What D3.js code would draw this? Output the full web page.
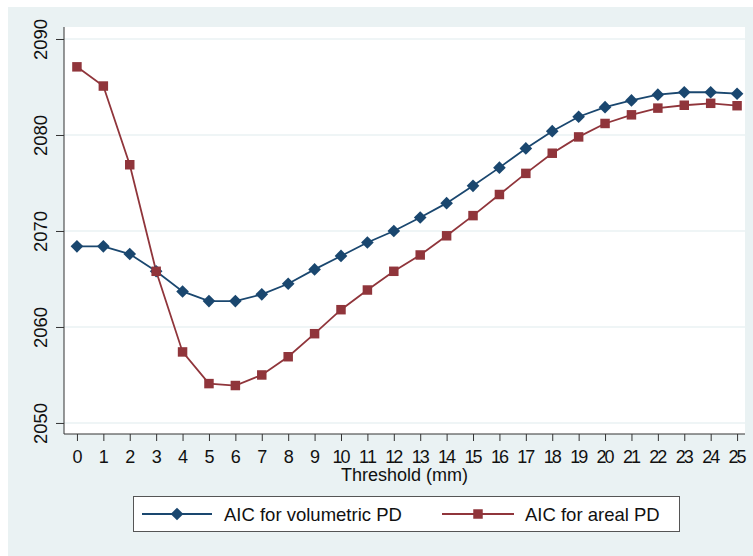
<!DOCTYPE html>
<html>
<head>
<meta charset="utf-8">
<script src="https://cdn.jsdelivr.net/npm/d3@7"></script>
<style>
  body { margin: 0; background: #fff; }
  text { font-family: Arial, "Liberation Sans", sans-serif; fill: #111; }
</style>
</head>
<body>
<div id="chart"></div>
<script>
// data
const thresholds = d3.range(0, 26);
const aicVolumetric = [2068.4, 2068.4, 2067.6, 2065.8, 2063.7, 2062.7, 2062.7, 2063.4, 2064.5, 2066.0,
  2067.4, 2068.8, 2070.0, 2071.4, 2072.9, 2074.7, 2076.6, 2078.6, 2080.4, 2081.9,
  2082.9, 2083.6, 2084.2, 2084.45, 2084.45, 2084.3];
const aicAreal = [2087.1, 2085.1, 2076.9, 2065.8, 2057.4, 2054.1, 2053.9, 2055.0, 2056.9, 2059.3,
  2061.8, 2063.85, 2065.8, 2067.5, 2069.5, 2071.6, 2073.8, 2076.0, 2078.1, 2079.8,
  2081.2, 2082.1, 2082.8, 2083.1, 2083.3, 2083.05];
const yTicks = [2050, 2060, 2070, 2080, 2090];
const seriesNames = ["AIC for volumetric PD", "AIC for areal PD"];

const width = 753;
const height = 556;
const plot = { left: 64, right: 745, top: 27, bottom: 434 };
const navy = "#1a476f";
const maroon = "#90353b";
const bg = "#eaf2f3";

const svg = d3.select("#chart")
  .append("svg")
  .attr("width", width)
  .attr("height", height);

// outer background
svg.append("rect")
  .attr("x", 8).attr("y", 7)
  .attr("width", width - 8).attr("height", height - 7)
  .attr("fill", bg);

svg.append("rect")
  .attr("x", plot.left).attr("y", plot.top)
  .attr("width", plot.right - plot.left).attr("height", plot.bottom - plot.top)
  .attr("fill", "#fff");

const xScale = d3.scaleLinear()
  .domain([-0.49, 25.3])
  .range([plot.left, plot.right]);

const yScale = d3.scaleLinear()
  .domain([2048.85, 2091.25])
  .range([plot.bottom, plot.top]);

// grid lines
svg.append("g")
  .selectAll("line")
  .data(yTicks)
  .enter()
  .append("line")
  .attr("x1", plot.left).attr("x2", plot.right)
  .attr("y1", d => yScale(d)).attr("y2", d => yScale(d))
  .attr("stroke", bg)
  .attr("stroke-width", 1.5);

// axes
const yAxis = d3.axisLeft(yScale).tickValues(yTicks).tickSize(8).tickSizeOuter(0).tickFormat(d3.format("d"));
const gy = svg.append("g")
  .attr("transform", "translate(" + plot.left + ",0)")
  .call(yAxis);
gy.select(".domain").attr("stroke", "#333").attr("d", "M0," + plot.top + "V" + plot.bottom);
gy.selectAll(".tick line").attr("stroke", "#333");
gy.selectAll(".tick text")
  .attr("transform", "rotate(-90)")
  .attr("x", 0)
  .attr("y", -17)
  .attr("dy", 0)
  .attr("text-anchor", "middle")
  .style("font-size", "18.5px")
  .attr("fill", "#111");

const xAxis = d3.axisBottom(xScale).tickValues(thresholds).tickSize(7).tickSizeOuter(0).tickFormat(d3.format("d"));
const gx = svg.append("g")
  .attr("transform", "translate(0," + plot.bottom + ")")
  .call(xAxis);
gx.select(".domain").attr("stroke", "#333").attr("d", "M" + plot.left + ",0H" + plot.right);
gx.selectAll(".tick line").attr("stroke", "#333");
gx.selectAll(".tick text")
  .attr("y", 28.7)
  .attr("dy", 0)
  .style("font-size", "18px")
  .attr("textLength", d => d < 10 ? 9 : 18)
  .attr("fill", "#111");

svg.append("text")
  .attr("x", (plot.left + plot.right) / 2)
  .attr("y", 481)
  .attr("text-anchor", "middle")
  .style("font-size", "18px")
  .text("Threshold (mm)");

// lines and markers
const line = d3.line()
  .x((d, i) => xScale(thresholds[i]))
  .y(d => yScale(d));

svg.append("path")
  .datum(aicVolumetric)
  .attr("d", line)
  .attr("fill", "none")
  .attr("stroke", navy)
  .attr("stroke-width", 1.8);

svg.append("path")
  .datum(aicAreal)
  .attr("d", line)
  .attr("fill", "none")
  .attr("stroke", maroon)
  .attr("stroke-width", 1.8);

const diamond = d3.symbol().type(d3.symbolSquare).size(80);
const square = d3.symbol().type(d3.symbolSquare).size(90);

svg.append("g")
  .selectAll("path")
  .data(aicVolumetric)
  .enter()
  .append("path")
  .attr("d", diamond)
  .attr("transform", (d, i) => "translate(" + xScale(thresholds[i]) + "," + yScale(d) + ") rotate(45)")
  .attr("fill", navy);

svg.append("g")
  .selectAll("path")
  .data(aicAreal)
  .enter()
  .append("path")
  .attr("d", square)
  .attr("transform", (d, i) => "translate(" + xScale(thresholds[i]) + "," + yScale(d) + ")")
  .attr("fill", maroon);

// legend
const legend = svg.append("g");
legend.append("rect")
  .attr("x", 133.5).attr("y", 496.5)
  .attr("width", 546).attr("height", 35)
  .attr("fill", "#fff")
  .attr("stroke", "#555")
  .attr("stroke-width", 1);

const legendItems = [
  { name: seriesNames[0], color: navy, x0: 142, x1: 212, text: 224, sym: diamond, rot: 45 },
  { name: seriesNames[1], color: maroon, x0: 442, x1: 514, text: 525, sym: square, rot: 0 }
];
legendItems.forEach(item => {
  legend.append("line")
    .attr("x1", item.x0).attr("x2", item.x1)
    .attr("y1", 514).attr("y2", 514)
    .attr("stroke", item.color)
    .attr("stroke-width", 1.8);
  legend.append("path")
    .attr("d", item.sym)
    .attr("transform", "translate(" + (item.x0 + item.x1) / 2 + ",514) rotate(" + item.rot + ")")
    .attr("fill", item.color);
  legend.append("text")
    .attr("x", item.text)
    .attr("y", 521)
    .style("font-size", "18.5px")
    .text(item.name);
});
</script>
</body>
</html>
